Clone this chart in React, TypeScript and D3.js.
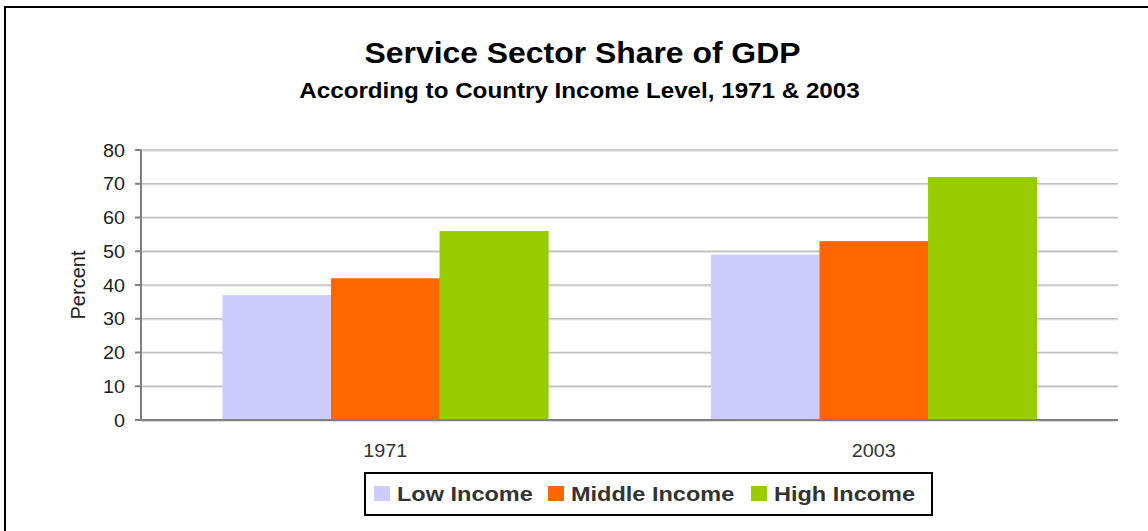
import * as d3 from "d3";
import type { ReactNode } from "react";

const years = ["1971", "2003"];
const seriesNames = ["Low Income", "Middle Income", "High Income"];
const lowIncome = [37, 49];
const middleIncome = [42, 53];
const highIncome = [56, 72];
const yTicks = [0, 10, 20, 30, 40, 50, 60, 70, 80];

const colors = ["#CCCCFF", "#FF6600", "#99CC00"];
const font = "'Liberation Sans', Arial, sans-serif";

const width = 1148;
const height = 531;
const left = 141;
const right = 1118;
const top = 150;
const bottom = 420;

// the source picture is stretched sideways a little, so text is too
function T(props: {
  x: number;
  y: number;
  size: number;
  anchor?: string;
  bold?: boolean;
  fill?: string;
  sx?: number;
  children: ReactNode;
}) {
  const sx = props.sx ?? 1.1;
  return (
    <g transform={`translate(${props.x},${props.y}) scale(${sx},1)`}>
      <text
        textAnchor={props.anchor ?? "start"}
        fontFamily={font}
        fontSize={props.size}
        fontWeight={props.bold ? "bold" : "normal"}
        fill={props.fill ?? "#333"}
      >
        {props.children}
      </text>
    </g>
  );
}

export default function App() {
  const values = [lowIncome, middleIncome, highIncome];

  const x = d3.scaleBand<string>().domain(years).range([left, right]).paddingInner(1 / 3).paddingOuter(1 / 6);
  const inner = d3.scaleBand<string>().domain(seriesNames).range([0, x.bandwidth()]);
  const y = d3.scaleLinear().domain([0, 80]).range([bottom, top]);

  const legendX = [374, 548, 751];

  return (
    <svg width={width} height={height} style={{ position: "fixed", left: 0, top: 0, background: "#fff" }}>
      <rect x={5} y={7} width={width + 10} height={height + 10} fill="none" stroke="#000" strokeWidth={2} />

      <T x={582.5} y={63} size={29} anchor="middle" bold fill="#000">
        Service Sector Share of GDP
      </T>
      <T x={579.5} y={98} size={22} anchor="middle" bold fill="#000">
        According to Country Income Level, 1971 &amp; 2003
      </T>

      {yTicks.filter((t) => t > 0).map((t) => (
        <g key={t}>
          <line x1={left} x2={right} y1={y(t) + 1.2} y2={y(t) + 1.2} stroke="#e6e6e6" strokeWidth={1} />
          <line x1={left} x2={right} y1={y(t)} y2={y(t)} stroke="#c0c0c0" strokeWidth={1.6} />
        </g>
      ))}

      {years.map((yr, i) => (
        <g key={yr} transform={`translate(${x(yr)},0)`}>
          {seriesNames.map((s, j) => (
            <rect
              key={s}
              x={inner(s)}
              y={y(values[j][i])}
              width={inner.bandwidth() + 0.5}
              height={bottom - y(values[j][i])}
              fill={colors[j]}
            />
          ))}
        </g>
      ))}

      <line x1={left} x2={right} y1={bottom + 1.5} y2={bottom + 1.5} stroke="#e0e0e0" strokeWidth={1} />
      <line x1={left - 6} x2={right} y1={bottom} y2={bottom} stroke="#808080" strokeWidth={2} />
      <line x1={left} x2={left} y1={top} y2={bottom} stroke="#808080" strokeWidth={2} />
      {yTicks.map((t) => (
        <g key={t}>
          <line x1={left - 6} x2={left} y1={y(t)} y2={y(t)} stroke="#808080" strokeWidth={2} />
          <T x={125} y={y(t) + 6.5} size={18} anchor="end" fill="#222">
            {t}
          </T>
        </g>
      ))}

      <text
        transform={`translate(85,${(top + bottom) / 2}) rotate(-90)`}
        textAnchor="middle"
        fontFamily={font}
        fontSize={20}
        fill="#222"
      >
        Percent
      </text>

      {years.map((yr) => (
        <T key={yr} x={(x(yr) ?? 0) + x.bandwidth() / 2} y={457} size={18} anchor="middle" fill="#333">
          {yr}
        </T>
      ))}

      <rect x={365} y={473} width={567} height={42} fill="#fff" stroke="#000" strokeWidth={2} />
      {seriesNames.map((name, i) => (
        <g key={name}>
          <rect x={legendX[i]} y={486} width={16} height={15} fill={colors[i]} />
          <T x={legendX[i] + 23} y={501} size={21} bold fill="#333" sx={1.12}>
            {name}
          </T>
        </g>
      ))}
    </svg>
  );
}
